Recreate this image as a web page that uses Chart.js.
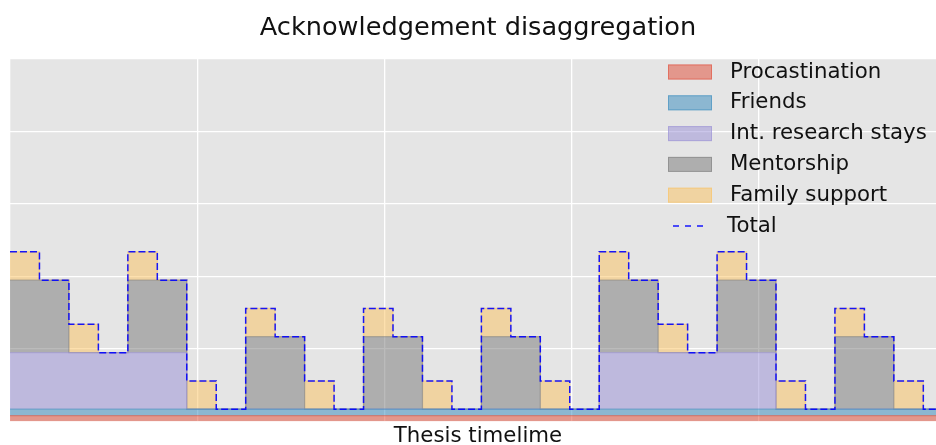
<!DOCTYPE html>
<html>
<head>
<meta charset="utf-8">
<title>Acknowledgement disaggregation</title>
<script src="https://cdn.jsdelivr.net/npm/chart.js@4.4.1/dist/chart.umd.min.js"></script>
<style>
  html, body { margin: 0; padding: 0; background: #fff; overflow: hidden; }
  canvas { display: block; }
</style>
</head>
<body>
<!-- the plot runs slightly past the right edge of the window, as in the original figure -->
<canvas id="ackChart" width="946" height="445"></canvas>
<script>
// one value per thesis "segment" along the timeline
const segments = [0, 1, 2, 3, 4, 5, 6, 7, 8, 9, 10, 11, 12, 13, 14, 15,
                  16, 17, 18, 19, 20, 21, 22, 23, 24, 25, 26, 27, 28, 29, 30, 31];

const procastination = [0.08, 0.08, 0.08, 0.08, 0.08, 0.08, 0.08, 0.08, 0.08, 0.08, 0.08, 0.08, 0.08, 0.08, 0.08, 0.08,
                        0.08, 0.08, 0.08, 0.08, 0.08, 0.08, 0.08, 0.08, 0.08, 0.08, 0.08, 0.08, 0.08, 0.08, 0.08, 0.08];
const friends = [0.09, 0.09, 0.09, 0.09, 0.09, 0.09, 0.09, 0.09, 0.09, 0.09, 0.09, 0.09, 0.09, 0.09, 0.09, 0.09,
                 0.09, 0.09, 0.09, 0.09, 0.09, 0.09, 0.09, 0.09, 0.09, 0.09, 0.09, 0.09, 0.09, 0.09, 0.09, 0.09];
const researchStays = [0.78, 0.78, 0.78, 0.78, 0.78, 0.78, 0, 0, 0, 0, 0, 0, 0, 0, 0, 0,
                       0, 0, 0, 0, 0.78, 0.78, 0.78, 0.78, 0.78, 0.78, 0, 0, 0, 0, 0, 0];
const mentorship = [1, 1, 0, 0, 1, 1, 0, 0, 1, 1, 0, 0, 1, 1, 0, 0,
                    1, 1, 0, 0, 1, 1, 0, 0, 1, 1, 0, 0, 1, 1, 0, 0];
const familySupport = [0.39, 0, 0.39, 0, 0.39, 0, 0.39, 0, 0.39, 0, 0.39, 0, 0.39, 0, 0.39, 0,
                       0.39, 0, 0.39, 0, 0.39, 0, 0.39, 0, 0.39, 0, 0.39, 0, 0.39, 0, 0.39, 0];

const seriesNames = ['Procastination', 'Friends', 'Int. research stays', 'Mentorship', 'Family support'];
const seriesValues = [procastination, friends, researchStays, mentorship, familySupport];
const seriesColors = ['226, 74, 51', '52, 138, 189', '152, 142, 213', '119, 119, 119', '251, 193, 94'];

const total = segments.map((s, i) => seriesValues.reduce((acc, arr) => acc + arr[i], 0));

// step points: each value holds until the start of the next segment
function toSteps(values) {
    const pts = segments.map((s, i) => ({ x: s, y: values[i] }));
    pts.push({ x: segments.length, y: values[values.length - 1] });
    return pts;
}

const plotBackground = {
    id: 'plotBackground',
    beforeDraw(chart) {
        const { ctx, chartArea } = chart;
        ctx.save();
        ctx.fillStyle = '#e5e5e5';
        ctx.fillRect(chartArea.left, chartArea.top, chartArea.right - chartArea.left, chartArea.bottom - chartArea.top);
        ctx.restore();
    }
};

const insideLegend = {
    id: 'insideLegend',
    afterDraw(chart) {
        const ctx = chart.ctx;
        ctx.save();
        ctx.font = '21.3px "DejaVu Sans"';
        ctx.textBaseline = 'middle';
        chart.data.datasets.forEach((ds, i) => {
            const y = 72 + i * 30.8;
            if (ds.stack === 'total') {
                ctx.strokeStyle = ds.borderColor;
                ctx.lineWidth = 1.5;
                ctx.setLineDash([6, 6]);
                ctx.beginPath();
                ctx.moveTo(673, y);
                ctx.lineTo(705, y);
                ctx.stroke();
                ctx.setLineDash([]);
                ctx.fillStyle = '#111';
                ctx.fillText(ds.label, 727, y);
            } else {
                ctx.fillStyle = ds.backgroundColor;
                ctx.fillRect(668, y - 7.5, 44, 15);
                ctx.strokeStyle = ds.borderColor;
                ctx.lineWidth = 1;
                ctx.strokeRect(668.5, y - 7, 43, 14);
                ctx.fillStyle = '#111';
                ctx.fillText(ds.label, 730, y);
            }
        });
        ctx.restore();
    }
};

const datasets = seriesNames.map((name, i) => ({
    label: name,
    data: toSteps(seriesValues[i]),
    stack: 'parts',
    fill: i === 0 ? 'origin' : '-1',
    backgroundColor: `rgba(${seriesColors[i]}, 0.5)`,
    borderColor: `rgba(${seriesColors[i]}, 0.5)`,
    borderWidth: 1.2,
    stepped: 'before',
    pointRadius: 0
}));

datasets.push({
    label: 'Total',
    data: toSteps(total),
    stack: 'total',
    order: -1,
    fill: false,
    borderColor: 'rgba(0, 0, 255, 0.9)',
    borderWidth: 1.5,
    borderDash: [7, 3],
    stepped: 'before',
    pointRadius: 0
});

Chart.defaults.font.family = '"DejaVu Sans", sans-serif';

new Chart(document.getElementById('ackChart').getContext('2d'), {
    type: 'line',
    data: { datasets: datasets },
    plugins: [plotBackground, insideLegend],
    options: {
        responsive: false,
        animation: false,
        layout: { padding: { left: 10, right: 0, top: 0, bottom: 0 } },
        plugins: {
            legend: { display: false },
            tooltip: { enabled: false },
            title: {
                display: true,
                text: 'Acknowledgement disaggregation',
                fullSize: false,
                color: '#111',
                font: { size: 25.6, weight: 'normal', lineHeight: 1.2 },
                padding: { top: 12.6, bottom: 15.7 }
            }
        },
        scales: {
            x: {
                type: 'linear',
                min: 0,
                max: 31.77,
                ticks: { display: false, stepSize: 6.354 },
                grid: { color: '#ffffff', lineWidth: 1.3, drawTicks: false },
                border: { display: false },
                title: {
                    display: true,
                    text: 'Thesis timelime',
                    color: '#111',
                    font: { size: 21.3, lineHeight: 0.845 },
                    padding: { top: 5.5, bottom: 0 }
                }
            },
            y: {
                stacked: true,
                min: 0,
                max: 5,
                ticks: { display: false, stepSize: 1 },
                grid: { color: '#ffffff', lineWidth: 1.3, drawTicks: false },
                border: { display: false }
            }
        }
    }
});
</script>
</body>
</html>
